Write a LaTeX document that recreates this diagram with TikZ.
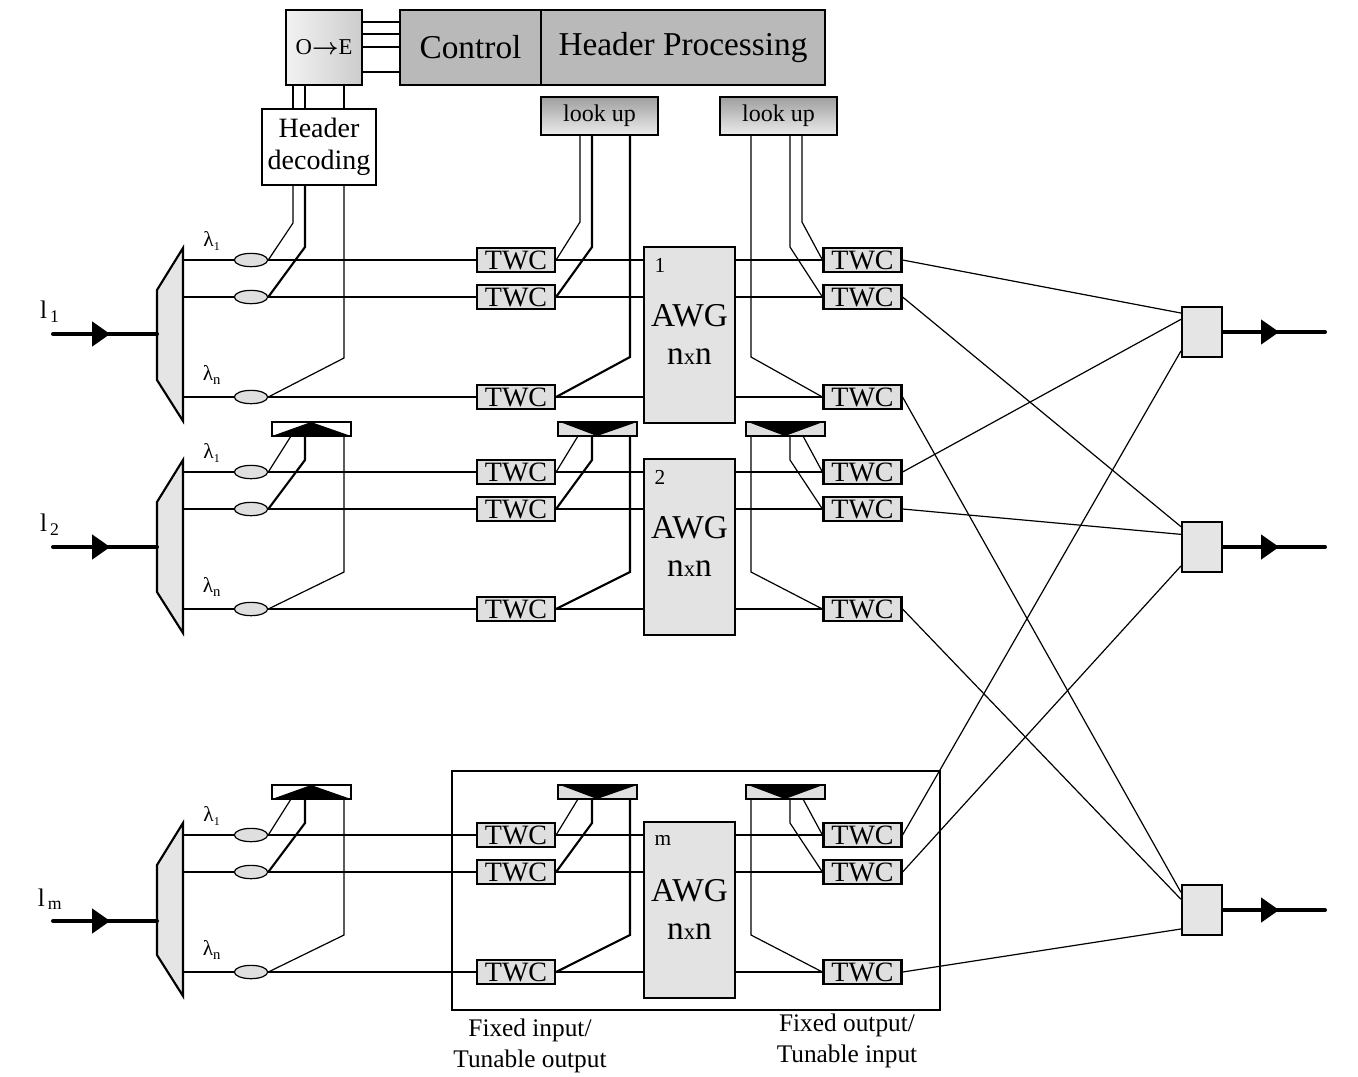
\documentclass[tikz,border=0pt]{standalone}
\usepackage{fontspec}
\setmainfont{Liberation Serif}
\usepackage{bm}
\usetikzlibrary{arrows.meta,decorations.markings,shapes.geometric}
\begin{document}
\begin{tikzpicture}[x=0.75pt,y=-0.75pt,
  l1/.style={line width=0.9pt},
  l2/.style={line width=1.6pt},
  twc/.style={draw,l2,fill=gray!25,minimum width=58.5pt,minimum height=18pt,inner sep=0pt,font=\fontsize{21}{21}\selectfont},
  awg/.style={draw,l2,fill=gray!22,minimum width=68pt,minimum height=132pt,inner sep=0pt},
  cpl/.style={draw,l1,fill=gray!25,ellipse,minimum width=25pt,minimum height=10pt,inner sep=0pt},
  outb/.style={draw,l2,fill=gray!20,minimum width=30pt,minimum height=37.5pt,inner sep=0pt},
  lookup/.style={draw,l2,top color=gray!75,bottom color=gray!15,minimum width=88pt,minimum height=28pt,inner sep=0pt,font=\fontsize{18}{18}\selectfont},
  inarrow/.style={line width=3pt,line cap=round,decoration={markings,mark=at position 0.55 with {\arrow{Triangle[length=13.5pt,width=18pt]}}},postaction=decorate},
  lam/.style={font=\fontsize{16}{16}\selectfont},
  big/.style={font=\fontsize{25}{25}\selectfont}
]
\useasboundingbox (0,0) rectangle (1358,1076);

% top control
\node[draw,l2,left color=gray!10,right color=gray!40,minimum width=57pt,minimum height=56pt,inner sep=0pt,font=\fontsize{17}{17}\selectfont] (oe) at (324,47.5) {O$\bm{\rightarrow}$E};
\node[draw,l2,fill=gray!55,minimum width=105.75pt,minimum height=56pt,inner sep=0pt,big] (ctl) at (470.5,47.5) {Control};
\node[draw,l2,fill=gray!55,minimum width=213pt,minimum height=56pt,inner sep=0pt,big] (hp) at (683,47.5) {Header Processing};
\draw[l2] (362,22) -- (400,22);
\draw[l1] (362,34) -- (400,34);
\draw[l2] (362,47) -- (400,47);
\draw[l2] (362,72) -- (400,72);
\node[draw,l2,fill=white,minimum width=85.5pt,minimum height=57pt,inner sep=0pt,align=center,font=\fontsize{21}{24}\selectfont] (hd) at (319,147) {Header\\decoding};
\draw[l1] (293,85) -- (293,109);
\draw[l2] (305,85) -- (305,109);
\draw[l1] (344,85) -- (344,109);
\node[lookup] (lu1) at (599.5,116) {look up};
\node[lookup] (lu2) at (778.5,116) {look up};

% outputs
\node[outb] (o1) at (1202,332) {};
\node[outb] (o2) at (1202,547) {};
\node[outb] (o3) at (1202,910) {};
\foreach \o/\y in {1/332,2/547,3/910}{
  \coordinate (e\o) at (1325,\y);
  \draw[inarrow] (o\o.east) -- (e\o);
}

% blocks
\foreach \b/\dy/\wa/\wb/\wc/\ay in {1/0/l1/l2/l2/334, 2/212/l2/l1/l1/547, m/575/l1/l2/l2/921}{
  \draw[l2,fill=gray!20] (183,248+\dy) -- (183,421+\dy) -- (157,380+\dy) -- (157,290+\dy) -- cycle;
  \coordinate (in\b) at (157,\ay);
  \coordinate (a\b) at (53,\ay);
  \draw[inarrow] (a\b) -- (in\b);
  \node[font=\fontsize{19}{19}\selectfont] at (50,\ay-22) {l\textsubscript{\,\b}};
  \node[lam] at (212,241+\dy) {λ\textsubscript{\fontsize{9}{9}\selectfont 1}};
  \node[lam] at (212,375+\dy) {λ\textsubscript{\fontsize{11}{11}\selectfont n}};
  \node[awg] (awg\b) at (689.5,335+\dy) {};
  \node[font=\fontsize{16}{16}\selectfont,anchor=west] at (650,265+\dy) {\b};
  \node[big] at (689.5,316+\dy) {AWG};
  \node[big] at (689.5,357+\dy) {n{\fontsize{17}{17}\selectfont x}n};
  \foreach \k/\r/\w in {1/0/\wa,2/37/\wb,3/137/\wc}{
    \node[cpl] (c\b-\k) at (251,260+\dy+\r) {};
    \node[twc] (L\b-\k) at (516,260+\dy+\r) {TWC};
    \node[twc] (R\b-\k) at (862.5,260+\dy+\r) {TWC};
    \draw[\w] (183,260+\dy+\r) -- (c\b-\k.west);
    \draw[\w] (c\b-\k.east) -- (L\b-\k.west);
    \draw[\w] (L\b-\k.east) -- (awg\b.west |- L\b-\k.east);
    \draw[\w] (awg\b.east |- R\b-\k.west) -- (R\b-\k.west);
  }
}

% block 1 control lines
\draw[l1] (c1-1.east) -- (293,223) -- (293,185);
\draw[l2] (c1-2.east) -- (305,247) -- (305,185);
\draw[l1] (c1-3.east) -- (344,358) -- (344,185);
\draw[l1] (L1-1.east) -- (580,222) -- (580,135);
\draw[l2] (L1-2.east) -- (592,247) -- (592,135);
\draw[l2] (L1-3.east) -- (630,357) -- (630,135);
\draw[l1] (R1-1.west) -- (802,222) -- (802,135);
\draw[l1] (R1-2.west) -- (790,247) -- (790,135);
\draw[l1] (R1-3.west) -- (751,357) -- (751,135);

% blocks 2 and m bars
\foreach \b/\dy in {2/212,m/575}{
  \node[draw,l2,fill=white,minimum width=59pt,minimum height=10.5pt,inner sep=0pt] (bl\b) at (311.5,429+\dy-212) {};
  \fill (272,436+\dy-212) -- (311,422+\dy-212) -- (351,436+\dy-212) -- cycle;
  \node[draw,l2,fill=gray!25,minimum width=59pt,minimum height=10.5pt,inner sep=0pt] (bm\b) at (597.5,429+\dy-212) {};
  \fill (560,422+\dy-212) -- (597,436+\dy-212) -- (637,422+\dy-212) -- cycle;
  \node[draw,l2,fill=gray!25,minimum width=59pt,minimum height=10.5pt,inner sep=0pt] (br\b) at (785.5,429+\dy-212) {};
  \fill (748,422+\dy-212) -- (785,436+\dy-212) -- (823,422+\dy-212) -- cycle;
  \draw[l1] (c\b-1.east) -- (291,436+\dy-212);
  \draw[l2] (c\b-2.east) -- (305,460+\dy-212) -- (305,436+\dy-212);
  \draw[l1] (c\b-3.east) -- (344,572+\dy-212) -- (344,436+\dy-212);
  \draw[l1] (L\b-1.east) -- (578,436+\dy-212);
  \draw[l2] (L\b-2.east) -- (592,460+\dy-212) -- (592,436+\dy-212);
  \draw[l2] (L\b-3.east) -- (630,572+\dy-212) -- (630,436+\dy-212);
  \draw[l1] (R\b-1.west) -- (803,436+\dy-212);
  \draw[l1] (R\b-2.west) -- (790,460+\dy-212) -- (790,436+\dy-212);
  \draw[l1] (R\b-3.west) -- (751,572+\dy-212) -- (751,436+\dy-212);
}

% frame of block m
\draw[l2] (452,771) rectangle (940,1010);
\node[align=center,font=\fontsize{19}{23}\selectfont] at (530,1046) {Fixed input/\\Tunable output};
\node[align=center,font=\fontsize{19}{23}\selectfont] at (847,1041) {Fixed output/\\Tunable input};

% crossings
\draw[l1] (R1-1.east) -- (o1.138);
\draw[l1] (R1-2.east) -- (o2.136);
\draw[l1] (R1-3.east) -- (o3.140);
\draw[l1] (R2-1.east) -- (o1.149);
\draw[l1] (R2-2.east) -- (o2.149);
\draw[l1] (R2-3.east) -- (o3.153);
\draw[l1] (Rm-1.east) -- (o1.222);
\draw[l1] (Rm-2.east) -- (o2.222);
\draw[l1] (Rm-3.east) -- (o3.222);
\end{tikzpicture}
\end{document}
